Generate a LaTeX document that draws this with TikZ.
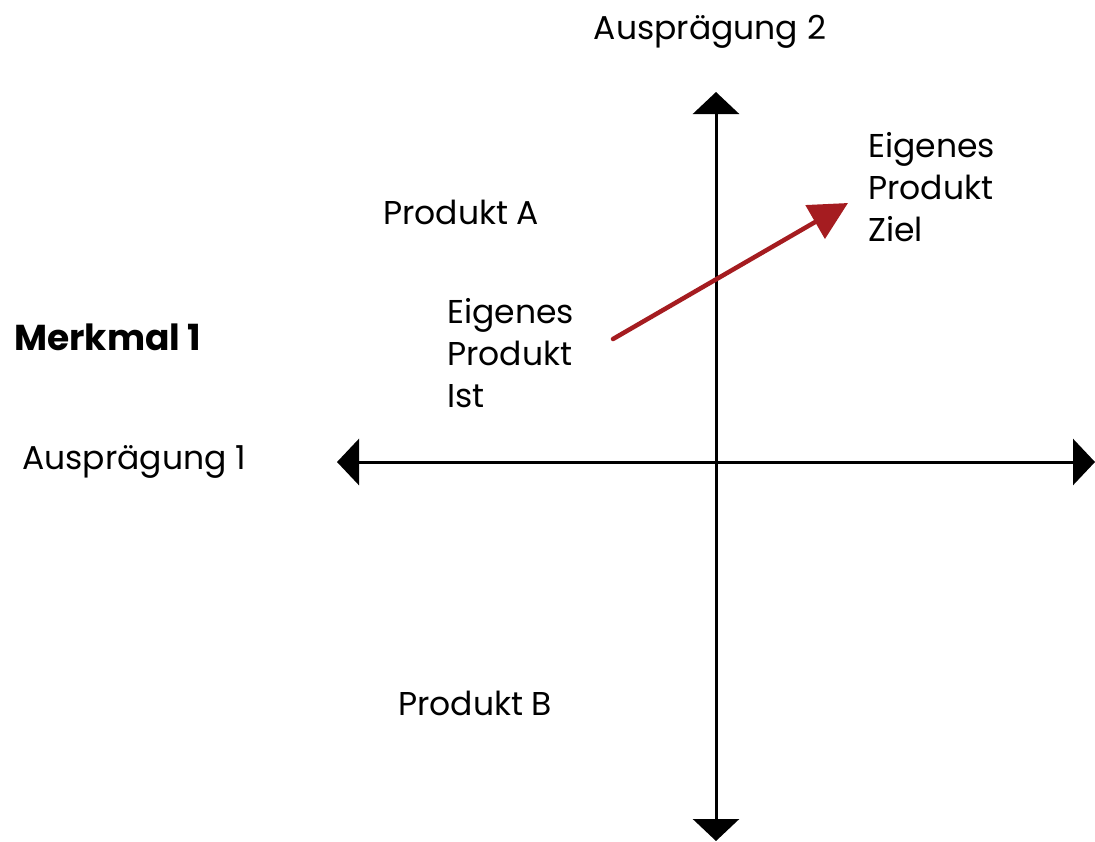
\documentclass[tikz,border=0pt]{standalone}
\usepackage{fontspec}
\setmainfont{Poppins}
\usetikzlibrary{arrows.meta}
\definecolor{zielrot}{RGB}{165,28,32}
\begin{document}
\begin{tikzpicture}[x=1pt,y=-1pt,
  lbl/.style={font=\fontsize{33}{42}\selectfont, inner sep=0pt, align=left},
  axis/.style={line width=3pt, draw=black,
    {Triangle[length=22pt,width=46pt]}-{Triangle[length=22pt,width=46pt]}},
  moveline/.style={line width=4.5pt, draw=zielrot, line cap=round,
    -{Triangle[length=38pt,width=38pt]}}]
  \useasboundingbox (0,0) rectangle (1095,841);
  % axes
  \coordinate (xl) at (337,462);
  \coordinate (xr) at (1095,462);
  \coordinate (yt) at (716,92);
  \coordinate (yb) at (716,841);
  \draw[axis] (xl) -- (xr);
  \draw[axis] (yt) -- (yb);
  % labels
  \node[lbl, anchor=center] (a2) at (710,32) {Ausprägung 2};
  \node[lbl, anchor=west] (a1) at (22,462) {Ausprägung 1};
  \node[lbl, anchor=west, font=\fontsize{36}{42}\selectfont\bfseries] (m1) at (14,337) {Merkmal 1};
  \node[lbl, anchor=west] (pa) at (383,212) {Produkt A};
  \node[lbl, anchor=west] (pb) at (398,703) {Produkt B};
  \node[lbl, anchor=west] (ist) at (447,353) {Eigenes\\Produkt\\Ist};
  \node[lbl, anchor=west] (ziel) at (868,187) {Eigenes\\Produkt\\Ziel};
  % movement from current to target position
  \coordinate (s0) at (613,339);
  \coordinate (s1) at (848,203);
  \draw[moveline] (s0) -- (s1);
\end{tikzpicture}
\end{document}
